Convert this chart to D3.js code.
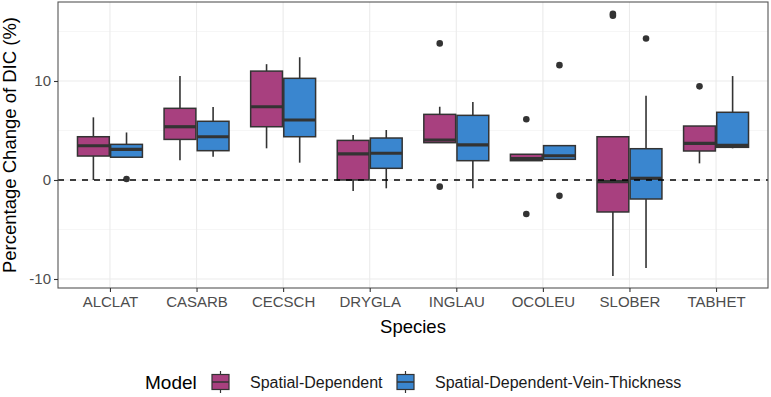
<!DOCTYPE html>
<html lang="en">
  <head>
    <meta charset="UTF-8" />
    <title>DIC change by species</title>
    <style>
      body { margin: 0; background: #fff; }
      svg { font-family: "Liberation Sans", Arial, sans-serif; }
    </style>
  </head>
  <body>
    <div id="chart"></div>

    <script src="https://cdn.jsdelivr.net/npm/d3@7"></script>
    <script>

      var species = ["ALCLAT", "CASARB", "CECSCH", "DRYGLA", "INGLAU", "OCOLEU", "SLOBER", "TABHET"];
      var models = ["Spatial-Dependent", "Spatial-Dependent-Vein-Thickness"];
      var colors = ["#a8407f", "#3a86cf"];
      var yTicks = [-10, 0, 10];

      // box stats per species
      var sdLow    = [0.0, 2.0, 3.2, -1.1, 3.77, 1.95, -9.7, 1.68];
      var sdQ1     = [2.42, 4.1, 5.38, 0.0, 3.77, 1.95, -3.23, 2.93];
      var sdMed    = [3.46, 5.38, 7.4, 2.63, 4.04, 2.15, -0.17, 3.7];
      var sdQ3     = [4.37, 7.24, 11.0, 4.0, 6.63, 2.6, 4.37, 5.45];
      var sdHigh   = [6.33, 10.5, 11.7, 4.55, 7.4, 2.6, 4.37, 5.45];
      var sdOut    = [[], [], [], [], [13.8, -0.67], [6.13, -3.43], [16.8, 16.6], [9.46]];

      var vtLow    = [2.3, 2.35, 1.75, -0.84, -0.84, 2.09, -8.9, 3.2];
      var vtQ1     = [2.3, 2.96, 4.37, 1.18, 1.95, 2.09, -1.92, 3.3];
      var vtMed    = [3.1, 4.37, 6.06, 2.7, 3.54, 2.45, 0.17, 3.5];
      var vtQ3     = [3.6, 5.93, 10.27, 4.24, 6.53, 3.47, 3.16, 6.84];
      var vtHigh   = [4.8, 7.37, 12.4, 5.05, 7.88, 3.47, 8.5, 10.5];
      var vtOut    = [[0.1], [], [], [], [], [11.6, -1.6], [14.3], []];

      var stats = [
        { low: sdLow, q1: sdQ1, med: sdMed, q3: sdQ3, high: sdHigh, out: sdOut },
        { low: vtLow, q1: vtQ1, med: vtMed, q3: vtQ3, high: vtHigh, out: vtOut }
      ];

      var boxes = [];
      models.forEach(function(m, mi) {
        species.forEach(function(s, si) {
          var st = stats[mi];
          boxes.push({ species: s, model: m, mi: mi,
                       low: st.low[si], q1: st.q1[si], med: st.med[si],
                       q3: st.q3[si], high: st.high[si], out: st.out[si] });
        });
      });

      var W = 771, H = 397;
      var panel = { left: 58, right: 768, top: 2, bottom: 288 };

      var svg = d3.select("#chart").append("svg")
                  .attr("width", W)
                  .attr("height", H);

      var xScale = d3.scalePoint()
                     .domain(species)
                     .range([panel.left, panel.right])
                     .padding(0.6);
      var step = xScale.step();
      var dodge = d3.scaleBand()
                    .domain(models)
                    .range([-step * 0.375, step * 0.375])
                    .paddingInner(0.04);
      var yScale = d3.scaleLinear()
                     .domain([-10.91, 17.98])
                     .range([panel.bottom, panel.top]);

      // grid
      var grid = svg.append("g");
      [-5, 5, 15].forEach(function(v) {
        grid.append("line")
            .attr("x1", panel.left).attr("x2", panel.right)
            .attr("y1", yScale(v)).attr("y2", yScale(v))
            .attr("stroke", "#f0f0f0").attr("stroke-width", 0.6);
      });
      yTicks.forEach(function(v) {
        grid.append("line")
            .attr("x1", panel.left).attr("x2", panel.right)
            .attr("y1", yScale(v)).attr("y2", yScale(v))
            .attr("stroke", "#ebebeb").attr("stroke-width", 1.1);
      });
      species.forEach(function(s) {
        grid.append("line")
            .attr("x1", xScale(s)).attr("x2", xScale(s))
            .attr("y1", panel.top).attr("y2", panel.bottom)
            .attr("stroke", "#ebebeb").attr("stroke-width", 1.1);
      });

      // boxplots
      var g = svg.selectAll(".box")
                 .data(boxes)
                 .enter()
                 .append("g")
                 .attr("class", "box")
                 .attr("transform", function(d) {
                   return "translate(" + (xScale(d.species) + dodge(d.model)) + ",0)";
                 });
      var bw = dodge.bandwidth();

      g.append("line")
       .attr("x1", bw / 2).attr("x2", bw / 2)
       .attr("y1", function(d) { return yScale(d.q3); })
       .attr("y2", function(d) { return yScale(d.high); })
       .attr("stroke", "#333").attr("stroke-width", 1.6);
      g.append("line")
       .attr("x1", bw / 2).attr("x2", bw / 2)
       .attr("y1", function(d) { return yScale(d.q1); })
       .attr("y2", function(d) { return yScale(d.low); })
       .attr("stroke", "#333").attr("stroke-width", 1.6);
      g.append("rect")
       .attr("x", 0)
       .attr("width", bw)
       .attr("y", function(d) { return yScale(d.q3); })
       .attr("height", function(d) { return Math.max(1, yScale(d.q1) - yScale(d.q3)); })
       .attr("fill", function(d) { return colors[d.mi]; })
       .attr("stroke", "#333").attr("stroke-width", 1.5);
      g.append("line")
       .attr("x1", 0).attr("x2", bw)
       .attr("y1", function(d) { return yScale(d.med); })
       .attr("y2", function(d) { return yScale(d.med); })
       .attr("stroke", "#333").attr("stroke-width", 3.2);
      g.selectAll(".pt")
       .data(function(d) { return d.out; })
       .enter()
       .append("circle")
       .attr("class", "pt")
       .attr("cx", bw / 2)
       .attr("cy", function(v) { return yScale(v); })
       .attr("r", 3.3)
       .attr("fill", "#333");

      // zero line
      svg.append("line")
         .attr("x1", panel.left).attr("x2", panel.right)
         .attr("y1", yScale(0)).attr("y2", yScale(0))
         .attr("stroke", "#000").attr("stroke-width", 1.6)
         .attr("stroke-dasharray", "6,6");

      // border
      svg.append("rect")
         .attr("x", panel.left).attr("y", panel.top)
         .attr("width", panel.right - panel.left)
         .attr("height", panel.bottom - panel.top)
         .attr("fill", "none")
         .attr("stroke", "#555").attr("stroke-width", 1.1);

      // axes
      var xAxis = d3.axisBottom(xScale).tickSize(4).tickPadding(4);
      var yAxis = d3.axisLeft(yScale).tickValues(yTicks).tickSize(4).tickPadding(3)
                    .tickFormat(function(v) { return String(v); });
      var xg = svg.append("g")
                  .attr("transform", "translate(0," + panel.bottom + ")")
                  .call(xAxis);
      var yg = svg.append("g")
                  .attr("transform", "translate(" + panel.left + ",0)")
                  .call(yAxis);
      [xg, yg].forEach(function(a) {
        a.select(".domain").remove();
        a.selectAll(".tick line").attr("stroke", "#333").attr("stroke-width", 1.1);
        a.selectAll(".tick text")
         .attr("fill", "#4d4d4d")
         .style("font-size", "15px")
         .style("font-family", "Liberation Sans, Arial, sans-serif");
      });

      svg.append("text")
         .attr("x", (panel.left + panel.right) / 2)
         .attr("y", 333)
         .attr("text-anchor", "middle")
         .style("font-size", "18.5px")
         .text("Species");
      svg.append("text")
         .attr("transform", "translate(15.5," + ((panel.top + panel.bottom) / 2) + ")rotate(-90)")
         .attr("text-anchor", "middle")
         .style("font-size", "18.5px")
         .text("Percentage Change of DIC (%)");

      // legend
      var leg = svg.append("g").attr("transform", "translate(0,382)");
      leg.append("text")
         .attr("x", 145).attr("y", 6.5)
         .style("font-size", "19px")
         .text("Model");
      var keyX = [212, 397];
      var labX = [250, 435];
      models.forEach(function(m, i) {
        var k = leg.append("g").attr("transform", "translate(" + keyX[i] + ",0)");
        k.append("line").attr("x1", 8.5).attr("x2", 8.5).attr("y1", -11).attr("y2", 11)
         .attr("stroke", "#333").attr("stroke-width", 1.2);
        k.append("rect").attr("x", 0).attr("y", -7.5).attr("width", 17).attr("height", 15)
         .attr("fill", colors[i]).attr("stroke", "#333").attr("stroke-width", 1.2);
        k.append("line").attr("x1", 0).attr("x2", 17).attr("y1", 0).attr("y2", 0)
         .attr("stroke", "#333").attr("stroke-width", 1.5);
        leg.append("text")
           .attr("x", labX[i]).attr("y", 5.5)
           .style("font-size", "16px")
           .attr("fill", "#1a1a1a")
           .text(m);
      });

    </script>
  </body>
</html>
